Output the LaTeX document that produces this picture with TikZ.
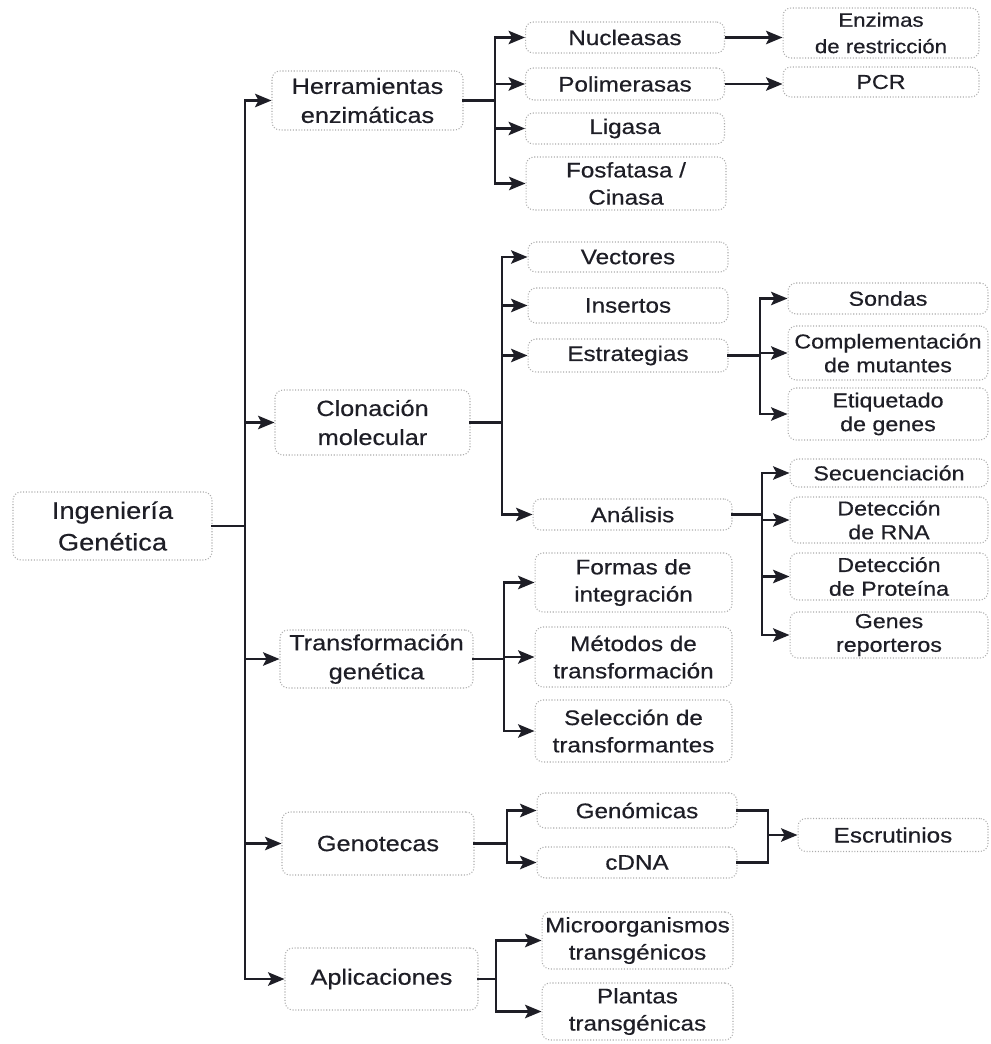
\documentclass[tikz,border=0pt]{standalone}
\usepackage{fontspec}
\setmainfont{Liberation Sans}[FakeStretch=1.15,FakeBold=0.5]
\usetikzlibrary{arrows.meta}
\definecolor{ink}{HTML}{1E1E26}
\begin{document}
\begin{tikzpicture}[x=0.02cm,y=-0.02cm,
  bx/.style={draw=gray!65, densely dotted, line width=0.6pt, rounded corners=1.6mm, align=center, text=ink, inner sep=0pt},
  rootf/.style={font=\fontsize{13.5}{18}\selectfont},
  lone/.style={font=\fontsize{12.5}{16.5}\selectfont},
  ltwo/.style={font=\fontsize{12}{15.5}\selectfont},
  lthree/.style={font=\fontsize{11.5}{13.5}\selectfont},
  conn/.style={draw=ink, line width=1.3pt, line cap=rect},
  arr/.style={draw=ink, line width=1.3pt, -{Stealth[length=3.3mm,width=2.7mm,inset=0.7mm]}},
]
\useasboundingbox (0,0) rectangle (990,1044);

% root
\node[bx,rootf,minimum width=3.98cm,minimum height=1.36cm] (root) at (112.5,526) {Ingeniería\\Genética};

% level 1
\node[bx,lone,minimum width=3.82cm,minimum height=1.18cm] (h1) at (367.5,100.5) {Herramientas\\enzimáticas};
\node[bx,lone,minimum width=3.9cm,minimum height=1.3cm] (h2) at (372.5,422.5) {Clonación\\molecular};
\node[bx,lone,minimum width=3.86cm,minimum height=1.16cm] (h3) at (376.5,659) {Transformación\\genética};
\node[bx,lone,minimum width=3.84cm,minimum height=1.26cm] (h4) at (378,843.5) {Genotecas};
\node[bx,lone,minimum width=3.86cm,minimum height=1.24cm] (h5) at (381.5,979) {Aplicaciones};

% level 2
\node[bx,ltwo,minimum width=3.98cm,minimum height=0.62cm] (n1) at (625,37.5) {Nucleasas};
\node[bx,ltwo,minimum width=3.98cm,minimum height=0.64cm] (n2) at (625,84) {Polimerasas};
\node[bx,ltwo,minimum width=3.98cm,minimum height=0.62cm] (n3) at (625,128.5) {Ligasa};
\node[bx,ltwo,minimum width=4.0cm,minimum height=1.06cm] (n4) at (626,183.5) {Fosfatasa /\\Cinasa};
\node[bx,ltwo,minimum width=4.0cm,minimum height=0.6cm] (c1) at (628,257) {Vectores};
\node[bx,ltwo,minimum width=4.0cm,minimum height=0.7cm] (c2) at (628,305.5) {Insertos};
\node[bx,ltwo,minimum width=4.0cm,minimum height=0.66cm] (c3) at (628,355.5) {Estrategias};
\node[bx,ltwo,minimum width=3.98cm,minimum height=0.62cm] (c4) at (632.5,514.5) {Análisis};
\node[bx,ltwo,minimum width=3.94cm,minimum height=1.18cm] (t1) at (633.5,582.5) {Formas de\\integración};
\node[bx,ltwo,minimum width=3.94cm,minimum height=1.2cm] (t2) at (633.5,657) {Métodos de\\transformación};
\node[bx,ltwo,minimum width=3.94cm,minimum height=1.24cm] (t3) at (633.5,731) {Selección de\\transformantes};
\node[bx,ltwo,minimum width=4.0cm,minimum height=0.7cm] (g1) at (637,810.5) {Genómicas};
\node[bx,ltwo,minimum width=4.0cm,minimum height=0.62cm] (g2) at (637,862.5) {cDNA};
\node[bx,ltwo,minimum width=3.82cm,minimum height=1.14cm] (p1) at (637.5,940.5) {Microorganismos\\transgénicos};
\node[bx,ltwo,minimum width=3.82cm,minimum height=1.14cm] (p2) at (637.5,1011.5) {Plantas\\transgénicas};

% level 3
\node[bx,font=\fontsize{11}{15}\selectfont,minimum width=3.92cm,minimum height=1.0cm] (e1) at (881,33) {Enzimas\\de restricción};
\node[bx,lthree,minimum width=3.92cm,minimum height=0.6cm] (e2) at (881,82) {PCR};
\node[bx,lthree,minimum width=4.0cm,minimum height=0.62cm] (s1) at (888,298.5) {Sondas};
\node[bx,lthree,minimum width=4.0cm,minimum height=1.08cm] (s2) at (888,353) {Complementación\\de mutantes};
\node[bx,lthree,minimum width=4.0cm,minimum height=1.04cm] (s3) at (888,414) {Etiquetado\\de genes};
\node[bx,lthree,minimum width=3.96cm,minimum height=0.56cm] (a1) at (889,473) {Secuenciación};
\node[bx,lthree,minimum width=3.96cm,minimum height=0.92cm] (a2) at (889,520) {Detección\\de RNA};
\node[bx,lthree,minimum width=3.96cm,minimum height=0.94cm] (a3) at (889,576.5) {Detección\\de Proteína};
\node[bx,lthree,minimum width=3.96cm,minimum height=0.92cm] (a4) at (889,635) {Genes\\reporteros};
\node[bx,ltwo,minimum width=3.8cm,minimum height=0.66cm] (esc) at (893,835) {Escrutinios};

% trunk coordinates
\coordinate (k0) at (245,0);
\coordinate (k1) at (495,0);
\coordinate (k2) at (502,0);
\coordinate (k3) at (504,0);
\coordinate (k4) at (507,0);
\coordinate (k5) at (496,0);
\coordinate (ks) at (760,0);
\coordinate (ka) at (762,0);
\coordinate (m) at (768,835);

% root -> level 1
\draw[conn] (root.east) -- (k0 |- root.east);
\draw[conn] (k0 |- h1.west) -- (k0 |- h5.west);
\foreach \n in {h1,h2,h3,h4,h5} \draw[arr] (k0 |- \n.west) -- (\n.west);

% Herramientas
\draw[conn] (h1.east) -- (k1 |- h1.east);
\draw[conn] (k1 |- n1.west) -- (k1 |- n4.west);
\foreach \n in {n1,n2,n3,n4} \draw[arr] (k1 |- \n.west) -- (\n.west);
\draw[arr] (n1.east) -- (n1.east -| e1.west);
\draw[arr] (n2.east) -- (n2.east -| e2.west);

% Clonacion
\draw[conn] (h2.east) -- (k2 |- h2.east);
\draw[conn] (k2 |- c1.west) -- (k2 |- c4.west);
\foreach \n in {c1,c2,c3,c4} \draw[arr] (k2 |- \n.west) -- (\n.west);

% Estrategias
\draw[conn] (c3.east) -- (ks |- c3.east);
\draw[conn] (ks |- s1.west) -- (ks |- s3.west);
\foreach \n in {s1,s2,s3} \draw[arr] (ks |- \n.west) -- (\n.west);

% Analisis
\draw[conn] (c4.east) -- (ka |- c4.east);
\draw[conn] (ka |- a1.west) -- (ka |- a4.west);
\foreach \n in {a1,a2,a3,a4} \draw[arr] (ka |- \n.west) -- (\n.west);

% Transformacion
\draw[conn] (h3.east) -- (k3 |- h3.east);
\draw[conn] (k3 |- t1.west) -- (k3 |- t3.west);
\foreach \n in {t1,t2,t3} \draw[arr] (k3 |- \n.west) -- (\n.west);

% Genotecas
\draw[conn] (h4.east) -- (k4 |- h4.east);
\draw[conn] (k4 |- g1.west) -- (k4 |- g2.west);
\foreach \n in {g1,g2} \draw[arr] (k4 |- \n.west) -- (\n.west);
\draw[conn] (g1.east) -| (m);
\draw[conn] (g2.east) -| (m);
\draw[arr] (m) -- (esc.west);

% Aplicaciones
\draw[conn] (h5.east) -- (k5 |- h5.east);
\draw[conn] (k5 |- p1.west) -- (k5 |- p2.west);
\foreach \n in {p1,p2} \draw[arr] (k5 |- \n.west) -- (\n.west);
\end{tikzpicture}
\end{document}
